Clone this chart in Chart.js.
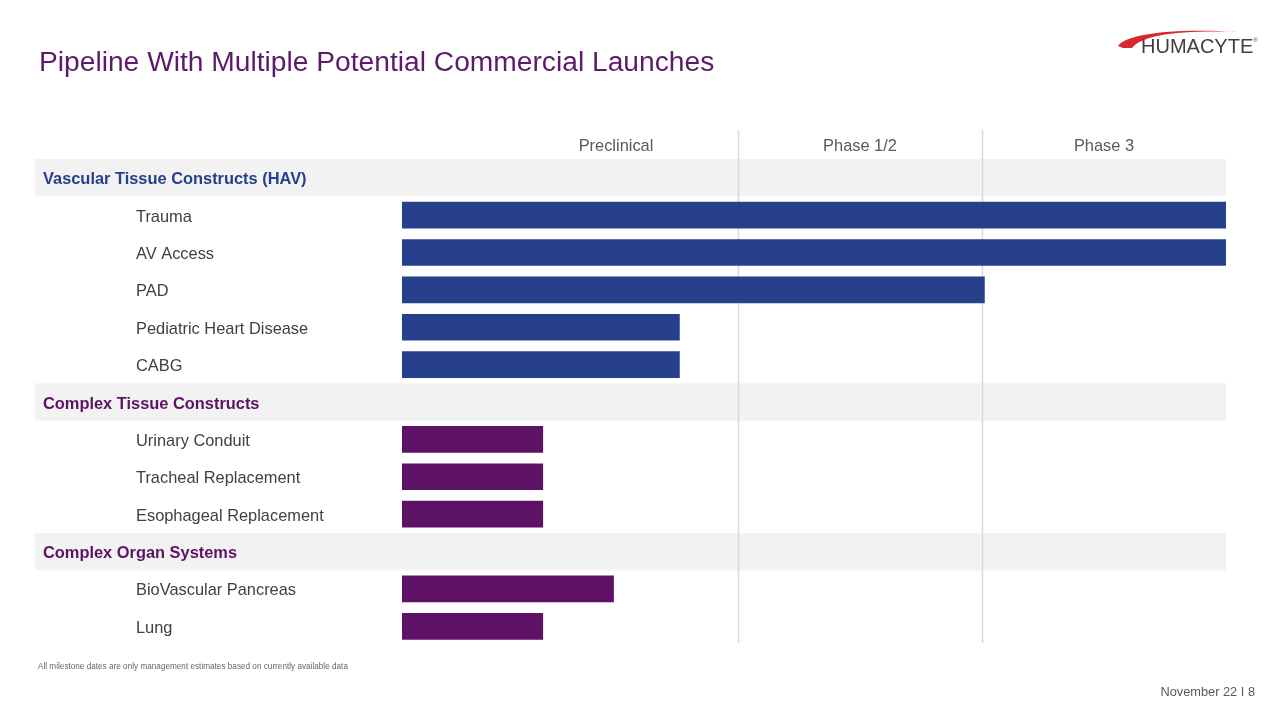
<!DOCTYPE html>
<html>
<head>
<meta charset="utf-8">
<script src="https://cdn.jsdelivr.net/npm/chart.js@4"></script>
<style>
  html, body { margin: 0; padding: 0; background: #fff; }
  #page { position: relative; width: 1280px; height: 720px; overflow: hidden; font-family: "Liberation Sans", Arial, sans-serif; }
  #chartWrap { position: absolute; left: 0; top: 0; width: 1280px; height: 720px; }
  #title { position: absolute; left: 39px; top: 45px; font-size: 28.2px; color: #5d1a6b; white-space: nowrap; }
  #logo { position: absolute; left: 1114px; top: 26px; width: 150px; height: 36px; }
  #logoText { position: absolute; left: 1141px; top: 35px; font-size: 20px; color: #3f3f3f; white-space: nowrap; }
  #logoText sup { font-size: 6px; vertical-align: top; position: relative; top: 2px; }
  #note { position: absolute; left: 38px; top: 662px; font-size: 8.2px; color: #666; white-space: nowrap; }
  #footer { position: absolute; right: 25px; top: 684px; font-size: 12.8px; color: #595959; white-space: nowrap; }
</style>
</head>
<body>
<div id="page">
  <div id="chartWrap"><canvas id="c"></canvas></div>
  <div id="title">Pipeline With Multiple Potential Commercial Launches</div>
  <svg id="logo" viewBox="0 0 150 36">
    <path d="M4 20 C 12 8, 60 2, 124 6 C 66 4, 28 9, 18 22 L 9 22 Z" fill="#d8262e"/>
  </svg>
  <div id="logoText">HUMACYTE<sup>®</sup></div>
  <div id="note">All milestone dates are only management estimates based on currently available data</div>
  <div id="footer">November 22 I 8</div>
</div>
<script>
// ---- data ----
const categories = [
  'Vascular Tissue Constructs (HAV)',
  'Trauma',
  'AV Access',
  'PAD',
  'Pediatric Heart Disease',
  'CABG',
  'Complex Tissue Constructs',
  'Urinary Conduit',
  'Tracheal Replacement',
  'Esophageal Replacement',
  'Complex Organ Systems',
  'BioVascular Pancreas',
  'Lung'
];
const groupRows = [0, 6, 10];
const groupColors = ['#26408b', '#5e1266', '#5e1266'];
// progress end, in phase units (Preclinical = 0..1, Phase 1/2 = 1..2, Phase 3 = 2..3)
const vascularProgress = [null, 3, 3, 2.01, 0.76, 0.76, null, null, null, null, null, null, null];
const complexProgress  = [null, null, null, null, null, null, null, 0.2, 0.2, 0.2, null, 0.49, 0.2];
const phaseLabels = ['Preclinical', 'Phase 1/2', 'Phase 3'];
const phaseCenters = [0.5, 1.5, 2.5];
const phaseDividers = [1, 2];
const axisStart = -0.377;
const axisEnd = 3;

const toFloating = arr => arr.map(v => v === null ? null : [axisStart, v]);

const decor = {
  id: 'decor',
  beforeDatasetsDraw(chart) {
    const ctx = chart.ctx, x = chart.scales.x, y = chart.scales.y, ca = chart.chartArea;
    const rowH = (ca.bottom - ca.top) / categories.length;
    ctx.save();
    ctx.fillStyle = '#f2f2f2';
    groupRows.forEach(r => {
      const cy = y.getPixelForValue(r);
      ctx.fillRect(35, cy - rowH / 2, ca.right - 35, rowH);
    });
    ctx.strokeStyle = '#d9d9d9';
    ctx.lineWidth = 1.5;
    phaseDividers.forEach(v => {
      const px = Math.round(x.getPixelForValue(v)) + 0.5;
      ctx.beginPath();
      ctx.moveTo(px, 130);
      ctx.lineTo(px, ca.bottom - 2);
      ctx.stroke();
    });
    ctx.fillStyle = '#595959';
    ctx.font = '16.4px "Liberation Sans", Arial, sans-serif';
    ctx.textAlign = 'center';
    ctx.textBaseline = 'middle';
    phaseLabels.forEach((t, i) => ctx.fillText(t, x.getPixelForValue(phaseCenters[i]), 146));
    ctx.textAlign = 'left';
    categories.forEach((t, i) => {
      const cy = y.getPixelForValue(i) + 2;
      const g = groupRows.indexOf(i);
      if (g >= 0) {
        ctx.font = 'bold 16.4px "Liberation Sans", Arial, sans-serif';
        ctx.fillStyle = groupColors[g];
        ctx.fillText(t, 43, cy);
      } else {
        ctx.font = '16.4px "Liberation Sans", Arial, sans-serif';
        ctx.fillStyle = '#404040';
        ctx.fillText(t, 136, cy);
      }
    });
    ctx.restore();
  }
};

new Chart(document.getElementById('c'), {
  type: 'bar',
  data: {
    labels: categories,
    datasets: [
      { label: 'Vascular', data: toFloating(vascularProgress), backgroundColor: '#26408b', barThickness: 26, grouped: false, borderSkipped: false },
      { label: 'Complex', data: toFloating(complexProgress), backgroundColor: '#5e1266', barThickness: 26, grouped: false, borderSkipped: false }
    ]
  },
  options: {
    indexAxis: 'y',
    responsive: true,
    maintainAspectRatio: false,
    animation: false,
    layout: { padding: { left: 402, right: 54, top: 159, bottom: 75 } },
    plugins: { legend: { display: false }, tooltip: { enabled: false }, title: { display: false } },
    scales: {
      x: { type: 'linear', min: axisStart, max: axisEnd, display: false },
      y: { type: 'category', display: false }
    }
  },
  plugins: [decor]
});
</script>
</body>
</html>
